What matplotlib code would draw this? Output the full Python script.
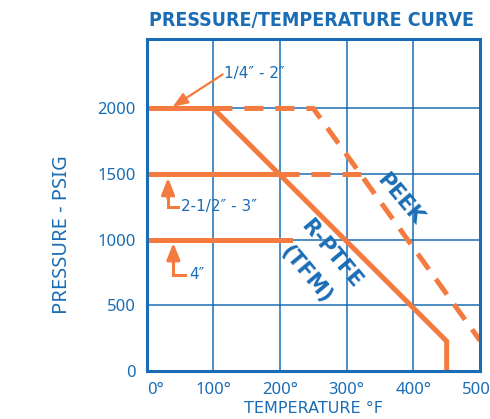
import numpy as np
import matplotlib.pyplot as plt

# chart data (degrees F / psig)
temp_ticks = [0, 100, 200, 300, 400, 500]
temp_labels = ['0°', '100°', '200°', '300°', '400°', '500°']
psi_ticks = [0, 500, 1000, 1500, 2000]

# R-PTFE (TFM) rating, 1/4" - 2"
ptfe_t = [0, 100, 450, 450]
ptfe_p = [2000, 2000, 225, 0]
# PEEK rating (dashed), 1/4" - 2"
peek_t = [100, 250, 500]
peek_p = [2000, 2000, 230]
# 2-1/2" - 3" : solid then dashed at 1500
mid_solid_t = [0, 200]
mid_dash_t = [200, 321]
mid_p = 1500
# 4" : solid at 1000
small_t = [0, 215]
small_p = 1000

BLUE = '#1a6db5'
ORANGE = '#f47b3f'

fig = plt.figure(figsize=(4.9, 4.19), dpi=100)
ax = fig.add_axes([0.2994, 0.1153, 0.6802, 0.7917])

ax.set_xlim(0, 500)
ax.set_ylim(0, 2530)
ax.set_xticks(temp_ticks)
ax.set_xticklabels(temp_labels)
ax.set_yticks(psi_ticks)
ax.grid(True, color=BLUE, linewidth=1.1)
ax.set_axisbelow(True)
for s in ax.spines.values():
    s.set_color(BLUE)
    s.set_linewidth(2.2)
ax.tick_params(length=0, labelcolor=BLUE, labelsize=12)
ax.tick_params(axis='x', pad=8)
ax.tick_params(axis='y', pad=8)
for t in ax.get_xticklabels() + ax.get_yticklabels():
    t.set_family(['Noto Sans', 'DejaVu Sans'])
ax.get_xticklabels()[0].set_ha('left')

lw = 3.6
dash = (3.8, 2.4)
ax.plot(ptfe_t, ptfe_p, color=ORANGE, lw=lw, solid_joinstyle='miter')
ax.plot(peek_t, peek_p, color=ORANGE, lw=lw, dashes=dash, dash_capstyle='butt')
ax.plot(mid_solid_t, [mid_p, mid_p], color=ORANGE, lw=lw)
ax.plot(mid_dash_t, [mid_p, mid_p], color=ORANGE, lw=lw, dashes=dash, dash_capstyle='butt')
ax.plot(small_t, [small_p, small_p], color=ORANGE, lw=lw)

# size annotations
ax.annotate('', xy=(39, 2013), xytext=(114, 2260),
            arrowprops=dict(arrowstyle='-|>,head_length=0.9,head_width=0.35',
                            color=ORANGE, lw=1.6, shrinkA=0, shrinkB=0))
ax.text(116, 2265, '1/4″ - 2″', color=BLUE, fontsize=11, va='center', ha='left')

for tip_t, tip_p, corner_p, end_t, txt_t, label in [
        (32, 1471, 1250, 47, 52, '2-1/2″ - 3″'),
        (40, 975, 730, 57, 64, '4″')]:
    ax.plot([end_t, tip_t, tip_t], [corner_p, corner_p, tip_p - 150],
            color=ORANGE, lw=2.2, solid_joinstyle='miter')
    ax.annotate('', xy=(tip_t, tip_p), xytext=(tip_t, tip_p - 160),
                arrowprops=dict(arrowstyle='-|>,head_length=1.0,head_width=0.4',
                                color=ORANGE, lw=2.2, shrinkA=0, shrinkB=0))
    ax.text(txt_t, corner_p, label, color=BLUE, fontsize=11, va='center', ha='left')

# material labels
ax.text(380, 1311, 'PEEK', color=BLUE, fontsize=15, fontweight='bold',
        rotation=-50, ha='center', va='center')
ax.text(277, 891, 'R-PTFE', color=BLUE, fontsize=15, fontweight='bold',
        rotation=-50, ha='center', va='center')
ax.text(239, 731, '(TFM)', color=BLUE, fontsize=15, fontweight='bold',
        rotation=-50, ha='center', va='center')

ax.set_xlabel('TEMPERATURE °F', color=BLUE, fontsize=11.5, labelpad=2)
ax.set_ylabel('PRESSURE - PSIG', color=BLUE, fontsize=14.5,
              family=['Noto Sans', 'DejaVu Sans'])
ax.yaxis.set_label_coords(-0.224, 0.41)
fig.text(0.635, 0.952, 'PRESSURE/TEMPERATURE CURVE', color=BLUE, fontsize=14,
         fontweight='bold', fontstretch='condensed',
         family=['DejaVu Sans'], ha='center', va='center')

fig.savefig('out.png', dpi=100)
